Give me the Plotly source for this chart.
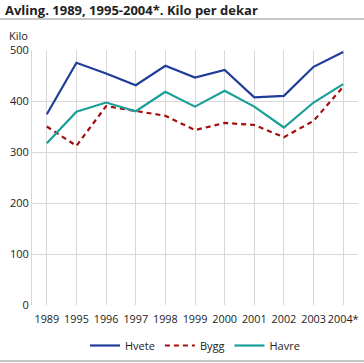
import plotly.graph_objects as go

years = ["1989", "1995", "1996", "1997", "1998", "1999", "2000", "2001", "2002", "2003", "2004*"]
hvete = [374, 475, 454, 431, 469, 446, 461, 407, 410, 467, 496]
bygg = [350, 312, 390, 380, 371, 343, 357, 353, 329, 361, 428]
havre = [317, 379, 397, 380, 418, 389, 420, 389, 348, 397, 433]

FONT = "Open Sans"
fig = go.Figure()
fig.add_trace(go.Scatter(x=years, y=hvete, name="Hvete", mode="lines",
                         line=dict(color="#1f3d99", width=2.2)))
fig.add_trace(go.Scatter(x=years, y=bygg, name="Bygg", mode="lines",
                         line=dict(color="#a30f0f", width=2.2, dash="5px,4px")))
fig.add_trace(go.Scatter(x=years, y=havre, name="Havre", mode="lines",
                         line=dict(color="#1a9e9a", width=2.2)))

PW, PH = 326, 255
fig.update_layout(
    width=364, height=363,
    margin=dict(l=32, r=6, t=50, b=58, autoexpand=False),
    paper_bgcolor="white", plot_bgcolor="white",
    font=dict(family=FONT, size=11, color="#222"),
    showlegend=True,
    legend=dict(orientation="h", x=0.5, xanchor="center", y=-26/PH, yanchor="top",
                font=dict(size=11), traceorder="normal"),
    xaxis=dict(type="category", range=[-0.5, 10.5], showgrid=True, gridcolor="#d8d8d8",
               gridwidth=1, zeroline=False, showline=False, ticks="", tickangle=0,
               automargin=False, ticklabelstandoff=6, tickfont=dict(size=10.8)),
    yaxis=dict(range=[0, 500], tickvals=[0, 100, 200, 300, 400, 500], showgrid=True,
               gridcolor="#d8d8d8", gridwidth=1, zeroline=False, showline=True,
               linecolor="#d8d8d8", linewidth=1, ticks="", automargin=False,
               tickfont=dict(size=11)),
    shapes=[
        dict(type="line", xref="paper", yref="paper", x0=-32/PW, x1=1+6/PW,
             y0=1+31/PH, y1=1+31/PH, line=dict(color="#b5b5b5", width=1.5)),
        dict(type="line", xref="paper", yref="paper", x0=-32/PW, x1=1+6/PW,
             y0=-56/PH, y1=-56/PH, line=dict(color="#b5b5b5", width=1.5)),
    ],
    annotations=[
        dict(text="<b>Avling. 1989, 1995-2004*. Kilo per dekar</b>", xref="paper", yref="paper",
             x=-29/PW, y=1+40/PH, xanchor="left", yanchor="middle", showarrow=False,
             font=dict(size=13, color="#222")),
        dict(text="Kilo", xref="paper", yref="paper", x=-25/PW, y=1+15/PH,
             xanchor="left", yanchor="middle", showarrow=False, font=dict(size=11)),
    ],
)
fig.write_html("out.html", config={"displayModeBar": False},
               post_script="document.body.style.margin='0';")
